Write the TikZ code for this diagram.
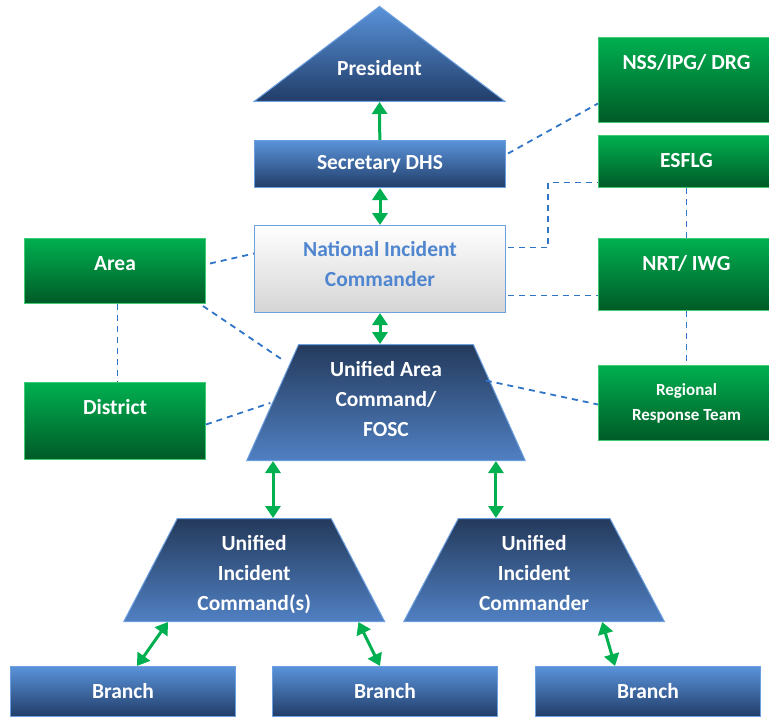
\documentclass[tikz,border=0pt]{standalone}
\usepackage{fontspec}
\setmainfont{Carlito}
\usetikzlibrary{shapes.geometric,arrows.meta,positioning}

\definecolor{bluetop}{HTML}{5A93DA}
\definecolor{bluebot}{HTML}{213D68}
\definecolor{blueline}{HTML}{6C9FE0}
\definecolor{traptop}{HTML}{243A5C}
\definecolor{trapbot}{HTML}{5080C2}
\definecolor{greentop}{HTML}{00B050}
\definecolor{greenbot}{HTML}{005A27}
\definecolor{greenline}{HTML}{3FCB74}
\definecolor{nictext}{HTML}{4F86CF}
\definecolor{nicbot}{HTML}{D4D4D4}
\definecolor{dashblue}{HTML}{2F74C7}
\definecolor{arrgreen}{HTML}{00B050}

\tikzset{
  txt/.style={font=\fontsize{21.5}{30}\selectfont\bfseries, text=white, align=center},
  bbox/.style={txt, rectangle, draw=blueline, line width=1pt, top color=bluetop, bottom color=bluebot,
    minimum width=251pt, inner sep=0pt, anchor=north west},
  gbox/.style={txt, rectangle, draw=greenline, line width=1pt, top color=greentop, bottom color=greenbot,
    inner sep=0pt, anchor=north west},
  gtop/.style={text height=32pt, text depth=#1},
  trap/.style={txt, trapezium, trapezium left angle=64, trapezium right angle=64, trapezium stretches,
    draw=blueline, line width=1pt, top color=traptop, bottom color=trapbot, inner sep=0pt,
    text depth=0pt, anchor=bottom left corner},
  link/.style={draw=arrgreen, line width=3pt, -{Triangle[width=15pt,length=12pt]}},
  dlink/.style={link, {Triangle[width=15pt,length=12pt]}-{Triangle[width=15pt,length=12pt]}},
  dotlink/.style={draw=dashblue, line width=1.8pt, dash pattern=on 6pt off 5pt},
}

\begin{document}
\begin{tikzpicture}[x=1pt, y=-1pt]
  \useasboundingbox (0,0) rectangle (769,717);
  \clip (0,0) rectangle (769,717);

  % Define nodes
  \node[txt, isosceles triangle, shape border rotate=90, isosceles triangle apex angle=105.7,
    minimum width=251pt, minimum height=95pt, inner sep=0pt, text depth=8pt, draw=blueline, line width=1pt,
    top color=bluetop, bottom color=bluebot, anchor=lower side] (pres) at (379.5,102) {President};
  \node[bbox, minimum height=47pt] (sec) at (254,140) {Secretary DHS};
  \node[bbox, minimum height=87pt, text height=35pt, text depth=0pt, top color=white, bottom color=nicbot,
    text=nictext] (nic) at (254,225) {National Incident\\Commander};
  \node[trap, minimum width=279pt, minimum height=116pt, text height=68pt] (uac) at (246,461)
    {Unified Area\\Command/\\FOSC};
  \node[trap, minimum width=261pt, minimum height=103pt, text height=81pt] (uics) at (123,622)
    {Unified\\Incident\\Command(s)};
  \node[trap, minimum width=261pt, minimum height=103pt, text height=81pt] (uicr) at (403,622)
    {Unified\\Incident\\Commander};
  \node[bbox, minimum width=225pt, minimum height=50pt] (br1) at (10,666) {Branch};
  \node[bbox, minimum width=225pt, minimum height=50pt] (br2) at (272,666) {Branch};
  \node[bbox, minimum width=225pt, minimum height=50pt] (br3) at (535,666) {Branch};

  \node[gbox, gtop=53pt, minimum width=176pt] (nss) at (598,37) {NSS/IPG/ DRG};
  \node[gbox, gtop=20pt, minimum width=176pt] (esflg) at (598,135) {ESFLG};
  \node[gbox, gtop=40pt, minimum width=176pt] (nrt) at (598,238) {NRT/ IWG};
  \node[gbox, minimum width=176pt, minimum height=75pt, font=\fontsize{17}{25}\selectfont\bfseries] (rrt)
    at (598,365) {Regional\\Response Team};
  \node[gbox, gtop=33pt, minimum width=181pt] (area) at (24,238) {Area};
  \node[gbox, gtop=45pt, minimum width=181pt] (district) at (24,382) {District};

  % Connect the nodes
  \draw[link] (sec) -- (pres.lower side);
  \draw[dlink] (sec) -- (nic);
  \draw[dlink] (nic) -- (nic |- uac.top side);
  \draw[dlink] ([xshift=27pt]uac.bottom left corner) -- ([xshift=27pt]uac.bottom left corner |- uics.top side);
  \draw[dlink] ([xshift=-30pt]uac.bottom right corner) -- ([xshift=-30pt]uac.bottom right corner |- uicr.top side);
  \draw[dlink] ([xshift=45pt]uics.bottom left corner) -- ([xshift=127pt]br1.north west);
  \draw[dlink] ([xshift=-27pt]uics.bottom right corner) -- ([xshift=108pt]br2.north west);
  \draw[dlink] ([xshift=-63pt]uicr.bottom right corner) -- ([xshift=80pt]br3.north west);

  % Dashed links
  \draw[dotlink] ([xshift=2pt,yshift=10.5pt]sec.east) -- ([yshift=-23.5pt]nss.west);
  \draw[dotlink] ([xshift=2pt,yshift=21.5pt]nic.east) -- ++(40,0) |- ([yshift=-21pt]esflg.west);
  \draw[dotlink] (esflg) -- (nrt);
  \draw[dotlink] ([xshift=2pt,yshift=-26.5pt]nic.east) -- ([yshift=-21pt]nrt.west);
  \draw[dotlink] (nrt) -- (rrt);
  \draw[dotlink] ([xshift=-14pt,yshift=22pt]uac.east) -- ([yshift=-1.5pt]rrt.west);
  \draw[dotlink] ([xshift=4pt,yshift=7.5pt]area.east) -- ([yshift=15.5pt]nic.west);
  \draw[dotlink] ([xshift=-3pt,yshift=-2pt]area.south east) -- ([xshift=-14pt,yshift=-17pt]uac.top left corner);
  \draw[dotlink] ([xshift=2.5pt]area.south) -- ([xshift=2.5pt]district.north);
  \draw[dotlink] ([yshift=-3.5pt]district.east) -- ([xshift=-28pt,yshift=-59pt]uac.top left corner);
\end{tikzpicture}
\end{document}
